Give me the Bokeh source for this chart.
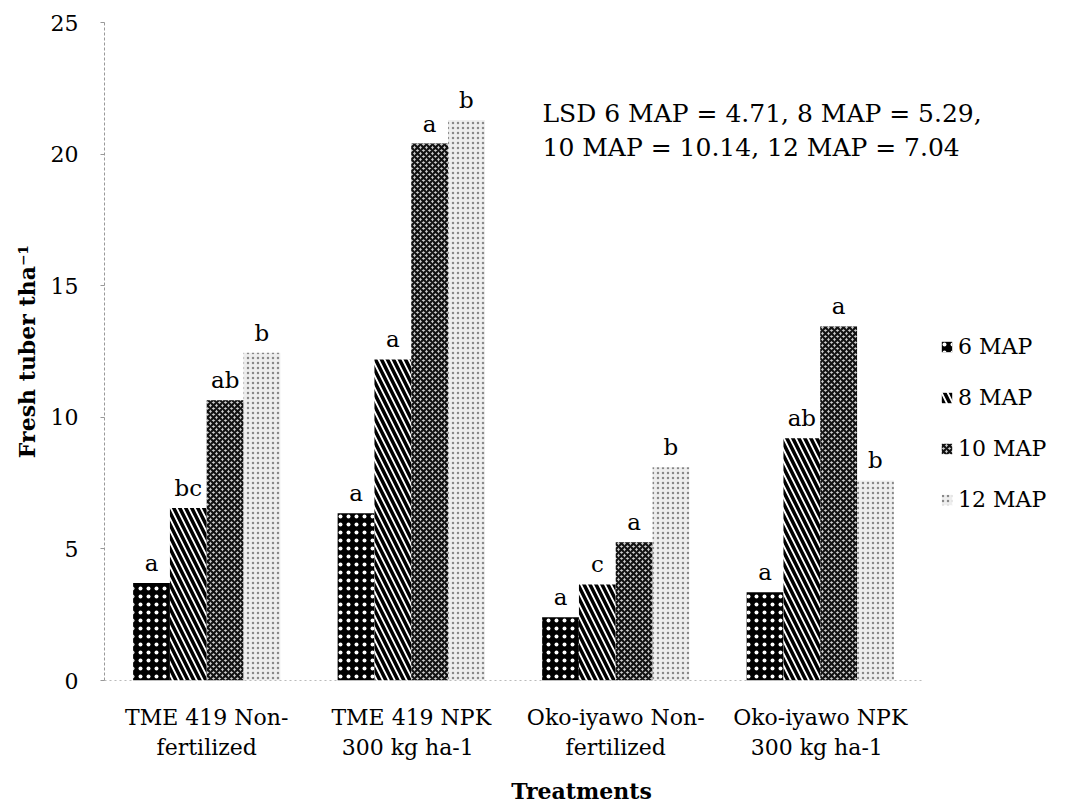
from bokeh.plotting import figure
from bokeh.models import Range1d, Legend, LegendItem, ColumnDataSource, Label, FixedTicker
from bokeh.transform import dodge
from bokeh.core.properties import value
from bokeh.embed import file_html
from bokeh.resources import INLINE

treatments = ["TME 419 Non-\nfertilized", "TME 419 NPK\n300  kg ha-1",
              "Oko-iyawo Non-\nfertilized", "Oko-iyawo NPK\n300  kg ha-1"]
series = ["6 MAP", "8 MAP", "10 MAP", "12 MAP"]
map6 = [3.7, 6.35, 2.4, 3.35]
map8 = [6.55, 12.2, 3.65, 9.2]
map10 = [10.65, 20.4, 5.25, 13.45]
map12 = [12.45, 21.3, 8.1, 7.6]
let6 = ["a", "a", "a", "a"]
let8 = ["bc", "a", "c", "ab"]
let10 = ["ab", "a", "a", "a"]
let12 = ["b", "b", "b", "b"]
y_ticks = [0, 5, 10, 15, 20, 25]
lsd_text = "LSD 6 MAP = 4.71, 8 MAP = 5.29,\n10 MAP = 10.14, 12 MAP = 7.04"

FONT = "DejaVu Serif"

# category centres on a numeric axis (one unit per treatment); extra room on the right holds the legend
xs = [i + 0.5 for i in range(len(treatments))]

p = figure(x_range=Range1d(0, 4.665), y_range=Range1d(0, 25),
           width=1058, height=806, output_backend="svg", toolbar_location=None,
           min_border_left=104, min_border_top=22, min_border_right=0, min_border_bottom=124)
p.outline_line_color = None
p.xgrid.visible = False
p.ygrid.visible = False

styles = [
    dict(fill_color="black", hatch_pattern="dot", hatch_color="white", hatch_scale=8, hatch_weight=2.5),
    dict(fill_color="white", hatch_pattern="left_diagonal_line", hatch_color="black", hatch_scale=12, hatch_weight=3.5),
    dict(fill_color="#cccccc", hatch_pattern="diagonal_cross", hatch_color="#111111", hatch_scale=6, hatch_weight=2.2),
    dict(fill_color="#eeeeee", hatch_pattern="dot", hatch_color="#444444", hatch_scale=5, hatch_weight=1.5, hatch_alpha=0.6),
]
vals = [map6, map8, map10, map12]
lets = [let6, let8, let10, let12]
offsets = [-0.27, -0.09, 0.09, 0.27]

items = []
for name, v, l, off, st in zip(series, vals, lets, offsets, styles):
    src = ColumnDataSource(dict(x=xs, top=v, lab=l))
    r = p.vbar(x=dodge("x", off), top="top", width=0.18, source=src,
               line_color=None, **st)
    p.text(x=dodge("x", off), y="top", text="lab", source=src,
           text_align="center", text_baseline="bottom", y_offset=-7,
           text_font=value(FONT), text_font_size="23px", text_color="black")
    items.append(LegendItem(label=name, renderers=[r]))

legend = Legend(items=items, location=(836, 168), orientation="vertical",
                label_text_font=FONT, label_text_font_size="22px", label_text_color="black",
                glyph_width=13, glyph_height=13, spacing=26, label_standoff=5,
                border_line_color=None, background_fill_alpha=0, padding=0, margin=0)
p.add_layout(legend, "center")

p.add_layout(Label(x=438, y=550, x_units="screen", y_units="screen", text=lsd_text,
                   text_font=FONT, text_font_size="25px", text_color="black",
                   text_baseline="middle"))

p.yaxis.ticker = FixedTicker(ticks=y_ticks)
p.yaxis.axis_line_color = "#999999"
p.yaxis.axis_line_dash = "3 2"
p.yaxis.major_tick_line_color = "#999999"
p.yaxis.major_tick_out = 4
p.yaxis.major_tick_in = 0
p.yaxis.minor_tick_line_color = None
p.yaxis.major_label_standoff = 22
p.yaxis.major_label_text_font = FONT
p.yaxis.major_label_text_font_size = "22px"
p.yaxis.major_label_text_color = "black"
p.yaxis.axis_label = "Fresh tuber tha\u207b\u00b9"
p.yaxis.axis_label_text_font = FONT
p.yaxis.axis_label_text_font_style = "bold"
p.yaxis.axis_label_text_font_size = "22px"
p.yaxis.axis_label_text_color = "black"
p.yaxis.axis_label_standoff = 8

p.xaxis.ticker = FixedTicker(ticks=xs)
p.xaxis.major_label_overrides = {x: t for x, t in zip(xs, treatments)}
p.xaxis.bounds = (0, len(treatments))
p.xaxis.axis_line_color = "#bbbbbb"
p.xaxis.axis_line_dash = "2 3"
p.xaxis.major_tick_line_color = None
p.xaxis.minor_tick_line_color = None
p.xaxis.major_label_standoff = 18
p.xaxis.major_label_text_font = FONT
p.xaxis.major_label_text_font_size = "22px"
p.xaxis.major_label_text_color = "black"
p.xaxis.major_label_orientation = "horizontal"
p.xaxis.axis_label = "Treatments"
p.xaxis.axis_label_text_font = FONT
p.xaxis.axis_label_text_font_style = "bold"
p.xaxis.axis_label_text_font_size = "22px"
p.xaxis.axis_label_text_color = "black"
p.xaxis.axis_label_standoff = 15

open("out.html", "w").write(file_html(p, INLINE))
